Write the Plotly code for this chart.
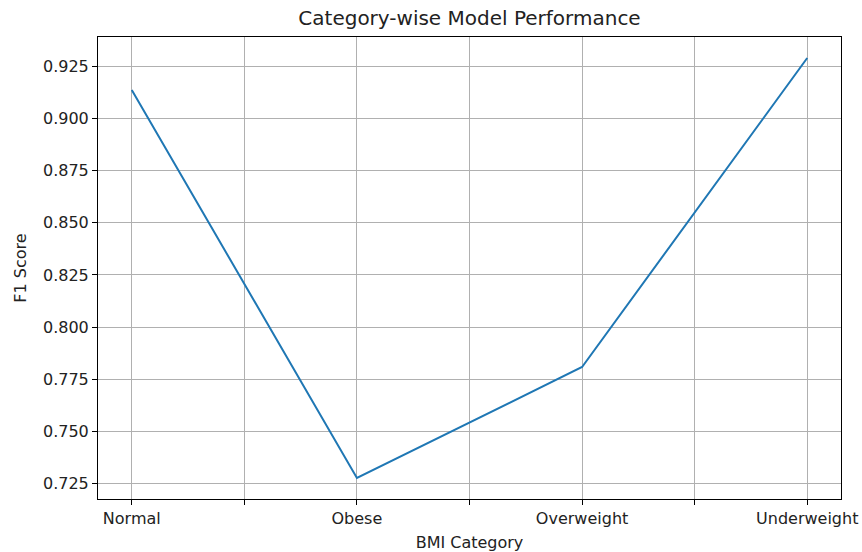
import plotly.graph_objects as go

categories = ["Normal", "Obese", "Overweight", "Underweight"]
f1_scores = [0.9137, 0.7277, 0.7809, 0.929]
tick_positions = [0, 0.5, 1, 1.5, 2, 2.5, 3]
tick_labels = ["Normal", "", "Obese", "", "Overweight", "", "Underweight"]
y_ticks = [0.725, 0.750, 0.775, 0.800, 0.825, 0.850, 0.875, 0.900, 0.925]

x_idx = list(range(len(categories)))
ymin, ymax = min(f1_scores), max(f1_scores)
pad = (ymax - ymin) * 0.05
n = len(categories) - 1

FONT = "DejaVu Sans"
TXT = "#222222"
fig = go.Figure()
fig.add_trace(go.Scatter(x=x_idx, y=f1_scores, mode="lines",
                         line=dict(color="#1f77b4", width=2), showlegend=False,
                         hovertext=categories))

axis_common = dict(showline=True, linecolor="black", linewidth=1, mirror=True,
                   showgrid=True, gridcolor="#b0b0b0", gridwidth=0.8,
                   ticks="outside", ticklen=5, tickwidth=1, tickcolor="black",
                   zeroline=False, automargin=False,
                   tickfont=dict(family=FONT, size=16, color=TXT))

fig.update_xaxes(range=[-0.05 * n, n + 0.05 * n], tickmode="array",
                 tickvals=tick_positions, ticktext=tick_labels,
                 title=dict(text="BMI Category", font=dict(family=FONT, size=16, color=TXT), standoff=9),
                 **axis_common)
fig.update_yaxes(range=[ymin - pad, ymax + pad], tickmode="array",
                 tickvals=y_ticks, ticktext=[f"{v:.3f}" for v in y_ticks],
                 title=dict(text="F1 Score", font=dict(family=FONT, size=16, color=TXT), standoff=12),
                 **axis_common)

fig.update_layout(
    width=862, height=552,
    margin=dict(l=98, r=21, t=37, b=53),
    paper_bgcolor="white", plot_bgcolor="white",
    title=dict(text="Category-wise Model Performance", x=(98 + 841) / 2 / 862, xref="container",
               xanchor="center", y=1 - 18 / 552, yanchor="middle", yref="container",
               font=dict(family=FONT, size=20, color=TXT)),
    font=dict(family=FONT),
)

fig.write_html("out.html", config={"displayModeBar": False},
               post_script="document.body.style.margin='0px';")
